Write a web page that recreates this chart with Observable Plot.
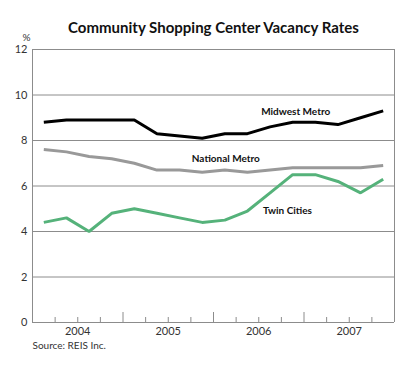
<!DOCTYPE html>
<html>
<head>
<meta charset="utf-8">
<script src="https://cdn.jsdelivr.net/npm/d3@7"></script>
<script src="https://cdn.jsdelivr.net/npm/@observablehq/plot@0.6"></script>
<style>
  html, body { margin: 0; padding: 0; background: #fff; }
  svg { display: block; }
</style>
</head>
<body>
<div id="chart"></div>
<script>
const title = "Community Shopping Center Vacancy Rates";
const source = "Source: REIS Inc.";
const years = [2004, 2005, 2006, 2007];
const quarters = [1, 2, 3, 4];
const yTicks = [0, 2, 4, 6, 8, 10, 12];
const midwest  = [8.8, 8.9, 8.9, 8.9, 8.9, 8.3, 8.2, 8.1, 8.3, 8.3, 8.6, 8.8, 8.8, 8.7, 9.0, 9.3];
const national = [7.6, 7.5, 7.3, 7.2, 7.0, 6.7, 6.7, 6.6, 6.7, 6.6, 6.7, 6.8, 6.8, 6.8, 6.8, 6.9];
const twin     = [4.4, 4.6, 4.0, 4.8, 5.0, 4.8, 4.6, 4.4, 4.5, 4.9, 5.7, 6.5, 6.5, 6.2, 5.7, 6.3];
const seriesNames = ["Midwest Metro", "National Metro", "Twin Cities"];
const seriesColors = ["#000000", "#999999", "#55b27a"];

// build table
const periods = years.flatMap(y => quarters.map(q => ({year: y, q, t: y + (q - 0.5) / 4})));
const seriesValues = [midwest, national, twin];
const rows = seriesNames.flatMap((name, s) =>
  periods.map((p, i) => ({series: name, t: p.t, value: seriesValues[s][i], idx: i})));

const minorTicks = years.flatMap(y => [1, 2, 3].map(q => y + q / 4));
const majorTicks = years.slice(1);
const yearMids = years.map(y => y + 0.5);

// label anchors (series, period index, offsets in px)
const labelSpecs = [
  {series: "Midwest Metro", idx: 11, dx: 3, dy: -11},
  {series: "National Metro", idx: 8, dx: 1, dy: -11},
  {series: "Twin Cities", idx: 9, dx: 40, dy: 0}
];
const labelMarks = labelSpecs.map(l => {
  const r = rows.filter(d => d.series === l.series && d.idx === l.idx);
  return Plot.text(r, {x: "t", y: "value", text: "series", dx: l.dx, dy: l.dy,
    fontWeight: "bold", fontSize: 10, fill: "#111"});
});

const font = "Lato, 'Open Sans', sans-serif";

const chart = Plot.plot({
  width: 415,
  height: 367,
  marginTop: 49,
  marginBottom: 45,
  marginLeft: 32,
  marginRight: 21,
  style: {fontFamily: font, background: "#fff"},
  x: {domain: [2004, 2008]},
  y: {domain: [0, 12]},
  color: {domain: seriesNames, range: seriesColors},
  marks: [
    Plot.gridY(yTicks.slice(1), {stroke: "#8c8c8c", strokeOpacity: 1, strokeWidth: 1}),
    Plot.ruleX([2004, 2008], {stroke: "#8c8c8c", strokeWidth: 1}),
    Plot.ruleY([0], {stroke: "#8c8c8c", strokeWidth: 1}),
    Plot.axisX(minorTicks, {tickSize: 5, dy: -5, tickFormat: () => "", stroke: "#8c8c8c", label: null}),
    Plot.axisX(majorTicks, {tickSize: 10, dy: -10, tickFormat: () => "", stroke: "#8c8c8c", label: null}),
    Plot.axisX(yearMids, {tickSize: 0, tickPadding: 5, tickFormat: d => String(Math.floor(d)), fontSize: 11, fill: "#333", label: null}),
    Plot.axisY(yTicks, {tickSize: 0, tickPadding: 5, fontSize: 11, fill: "#333", label: null}),
    Plot.line(rows, {x: "t", y: "value", z: "series", stroke: "series", strokeWidth: 3, strokeLinejoin: "miter", strokeLinecap: "butt"}),
    ...labelMarks,
    Plot.text([title], {frameAnchor: "top", dy: -27, fontWeight: "bold", fontSize: 15, fill: "#111"}),
    Plot.text(["%"], {frameAnchor: "top-left", dx: -10, dy: -16, fontSize: 10, fill: "#333"}),
    Plot.text([source], {frameAnchor: "bottom-left", dy: 26, textAnchor: "start", fontSize: 10, fill: "#333"})
  ]
});
document.getElementById("chart").appendChild(chart);
</script>
</body>
</html>
